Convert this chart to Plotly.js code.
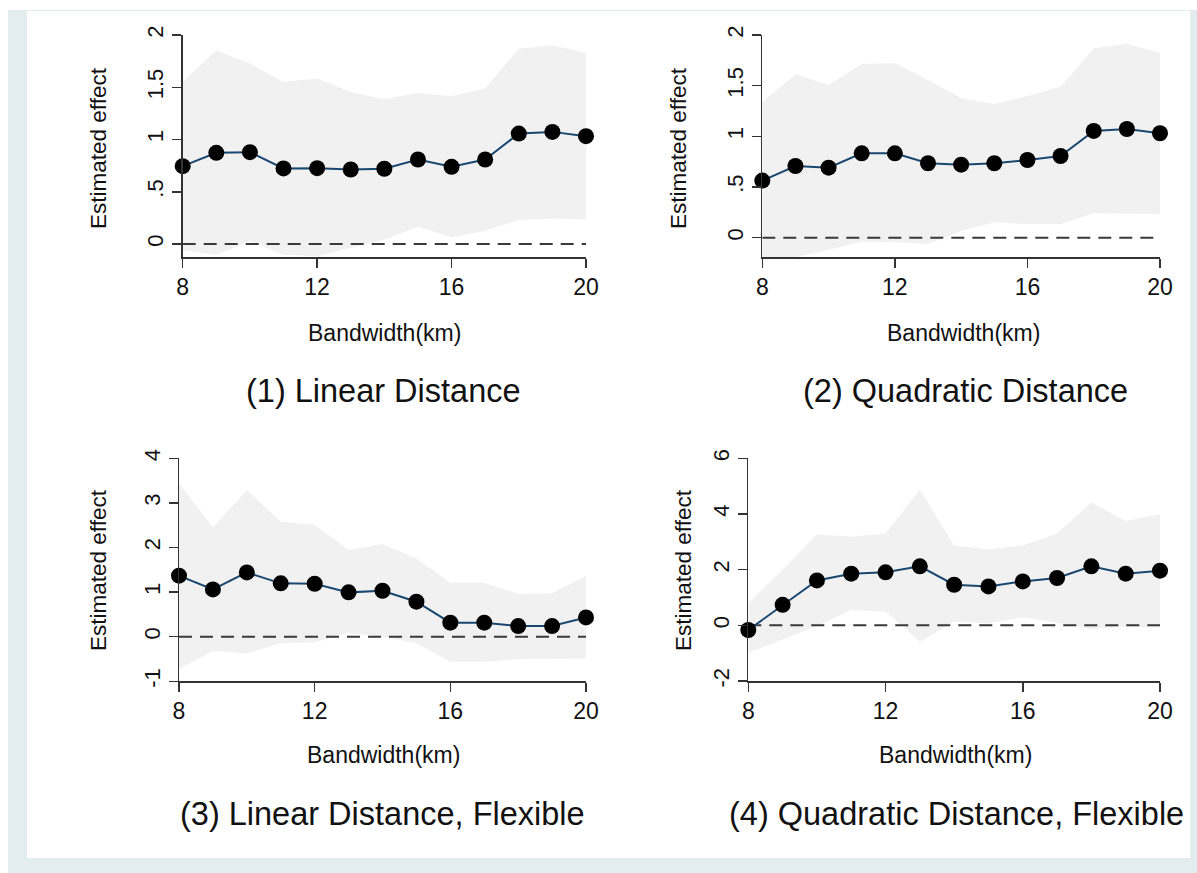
<!DOCTYPE html>
<html>
<head>
<meta charset="utf-8">
<script src="https://cdn.plot.ly/plotly-3.0.1.min.js"></script>
<style>
  html, body { margin: 0; padding: 0; background: #ffffff; }
  #chart { width: 1197px; height: 873px; }
</style>
</head>
<body>
<div id="chart"></div>
<script>
// ---- Data ----
const bandwidth = [8, 9, 10, 11, 12, 13, 14, 15, 16, 17, 18, 19, 20];

const est1 = [0.745, 0.873, 0.879, 0.723, 0.726, 0.713, 0.720, 0.809, 0.739, 0.809, 1.057, 1.073, 1.032];
const lo1  = [-0.057, -0.105, 0.030, -0.105, -0.115, -0.040, 0.040, 0.166, 0.064, 0.127, 0.229, 0.245, 0.236];
const hi1  = [1.550, 1.853, 1.726, 1.551, 1.583, 1.455, 1.385, 1.446, 1.414, 1.487, 1.869, 1.901, 1.828];

const est2 = [0.563, 0.707, 0.691, 0.832, 0.832, 0.734, 0.720, 0.734, 0.766, 0.806, 1.053, 1.072, 1.030];
const lo2  = [-0.220, -0.194, -0.120, -0.040, -0.046, -0.062, 0.066, 0.151, 0.135, 0.135, 0.240, 0.240, 0.234];
const hi2  = [1.342, 1.612, 1.507, 1.714, 1.720, 1.556, 1.375, 1.319, 1.398, 1.490, 1.868, 1.911, 1.826];

const est3 = [1.368, 1.061, 1.442, 1.196, 1.188, 0.994, 1.031, 0.785, 0.314, 0.314, 0.239, 0.239, 0.433];
const lo3  = [-0.732, -0.314, -0.374, -0.149, -0.127, 0.090, 0.000, -0.149, -0.560, -0.560, -0.500, -0.500, -0.486];
const hi3  = [3.438, 2.451, 3.289, 2.578, 2.504, 1.943, 2.078, 1.756, 1.211, 1.211, 0.957, 0.972, 1.360];

const est4 = [-0.169, 0.735, 1.614, 1.855, 1.904, 2.120, 1.458, 1.398, 1.578, 1.699, 2.120, 1.855, 1.964];
const lo4  = [-0.988, -0.500, -0.024, 0.554, 0.494, -0.590, 0.133, 0.072, 0.289, 0.096, -0.145, -0.048, -0.072];
const hi4  = [0.795, 2.000, 3.265, 3.180, 3.300, 4.867, 2.867, 2.723, 2.867, 3.300, 4.410, 3.747, 3.988];

const xTickVals = [8, 12, 16, 20];
const yTickVals12 = [0, 0.5, 1, 1.5, 2];
const yTickText12 = ["0", ".5", "1", "1.5", "2"];
const yTickVals3 = [-1, 0, 1, 2, 3, 4];
const yTickText3 = ["-1", "0", "1", "2", "3", "4"];
const yTickVals4 = [-2, 0, 2, 4, 6];
const yTickText4 = ["-2", "0", "2", "4", "6"];

const yTitle = "Estimated effect";
const xTitle = "Bandwidth(km)";
const panelTitles = ["(1) Linear Distance", "(2) Quadratic Distance",
                     "(3) Linear Distance, Flexible", "(4) Quadratic Distance, Flexible"];

// ---- Layout geometry (pixels) ----
const W = 1197, H = 873;
const FONT = "Liberation Sans, Arial, sans-serif";
const panels = [
  {est: est1, lo: lo1, hi: hi1, x0: 182.7, x1: 586, yTop: 35, yBot: 257.3, range: [-0.127, 2], tv: yTickVals12, tt: yTickText12,
   ytX: 98, ytY: 148, xtX: 384, xtY: 333, stX: 383, stY: 391},
  {est: est2, lo: lo2, hi: hi2, x0: 762.3, x1: 1160, yTop: 35, yBot: 257.3, range: [-0.194, 2], tv: yTickVals12, tt: yTickText12,
   ytX: 678, ytY: 148, xtX: 963, xtY: 333, stX: 965, stY: 391},
  {est: est3, lo: lo3, hi: hi3, x0: 179, x1: 586, yTop: 458.3, yBot: 681.3, range: [-1, 4], tv: yTickVals3, tt: yTickText3,
   ytX: 98, ytY: 570, xtX: 383, xtY: 755, stX: 382, stY: 814},
  {est: est4, lo: lo4, hi: hi4, x0: 748.3, x1: 1160, yTop: 458.3, yBot: 681, range: [-2, 6], tv: yTickVals4, tt: yTickText4,
   ytX: 683, ytY: 570, xtX: 955, xtY: 755, stX: 956, stY: 814}
];

const traces = [];
const layout = {
  width: W, height: H,
  margin: {l: 0, r: 0, t: 0, b: 0},
  paper_bgcolor: "#ffffff",
  plot_bgcolor: "rgba(0,0,0,0)",
  showlegend: false,
  font: {family: FONT, color: "#111111"},
  shapes: [
    {type: "rect", xref: "paper", yref: "paper", x0: 8 / W, x1: 1, y0: 0, y1: 1 - 10 / H,
     fillcolor: "#e3ecef", line: {width: 0}, layer: "below"},
    {type: "rect", xref: "paper", yref: "paper", x0: 27 / W, x1: 1190 / W, y0: 1 - 858 / H, y1: 1 - 11 / H,
     fillcolor: "#ffffff", line: {width: 0}, layer: "below"}
  ],
  annotations: []
};

panels.forEach((p, i) => {
  const n = i + 1;
  const xa = n === 1 ? "x" : "x" + n;
  const ya = n === 1 ? "y" : "y" + n;
  const xKey = n === 1 ? "xaxis" : "xaxis" + n;
  const yKey = n === 1 ? "yaxis" : "yaxis" + n;

  traces.push({x: bandwidth, y: p.lo, xaxis: xa, yaxis: ya, mode: "lines",
               line: {width: 0, color: "rgba(0,0,0,0)"}, hoverinfo: "skip"});
  traces.push({x: bandwidth, y: p.hi, xaxis: xa, yaxis: ya, mode: "lines", fill: "tonexty",
               fillcolor: "#f1f1f1", line: {width: 0, color: "rgba(0,0,0,0)"}, hoverinfo: "skip"});
  traces.push({x: [bandwidth[0], bandwidth[bandwidth.length - 1]], y: [0, 0], xaxis: xa, yaxis: ya, mode: "lines",
               line: {color: "#3a3a3a", width: 2, dash: "13px,8px"}, hoverinfo: "skip"});
  traces.push({x: bandwidth, y: p.est, xaxis: xa, yaxis: ya, mode: "lines+markers", cliponaxis: false,
               line: {color: "#1a476f", width: 2},
               marker: {color: "#000000", size: 16}});

  layout[xKey] = {
    domain: [p.x0 / W, p.x1 / W], anchor: ya, range: [8, 20],
    showline: true, linecolor: "#333333", linewidth: 1.5,
    ticks: "outside", ticklen: 9, tickwidth: 1.5, tickcolor: "#333333",
    tickmode: "array", tickvals: xTickVals, ticktext: xTickVals.map(String),
    tickfont: {family: FONT, size: 23, color: "#111111"},
    showgrid: false, zeroline: false, fixedrange: true
  };
  layout[yKey] = {
    domain: [1 - p.yBot / H, 1 - p.yTop / H], anchor: xa, range: p.range,
    showline: true, linecolor: "#333333", linewidth: 1.5,
    ticks: "outside", ticklen: 9, tickwidth: 1.5, tickcolor: "#333333",
    tickmode: "array", tickvals: p.tv, ticktext: p.tt, tickangle: -90,
    tickfont: {family: FONT, size: 22, color: "#111111"},
    showgrid: false, zeroline: false, fixedrange: true
  };

  layout.annotations.push({xref: "paper", yref: "paper", x: p.ytX / W, y: 1 - p.ytY / H,
    text: yTitle, textangle: -90, showarrow: false, xanchor: "center", yanchor: "middle",
    font: {family: FONT, size: 22.5, color: "#111111"}});
  layout.annotations.push({xref: "paper", yref: "paper", x: p.xtX / W, y: 1 - p.xtY / H,
    text: xTitle, showarrow: false, xanchor: "center", yanchor: "middle",
    font: {family: FONT, size: 23, color: "#111111"}});
  layout.annotations.push({xref: "paper", yref: "paper", x: p.stX / W, y: 1 - p.stY / H,
    text: panelTitles[i], showarrow: false, xanchor: "center", yanchor: "middle",
    font: {family: FONT, size: 32.5, color: "#111111"}});
});

Plotly.newPlot("chart", traces, layout, {displayModeBar: false, staticPlot: true});
</script>
</body>
</html>
